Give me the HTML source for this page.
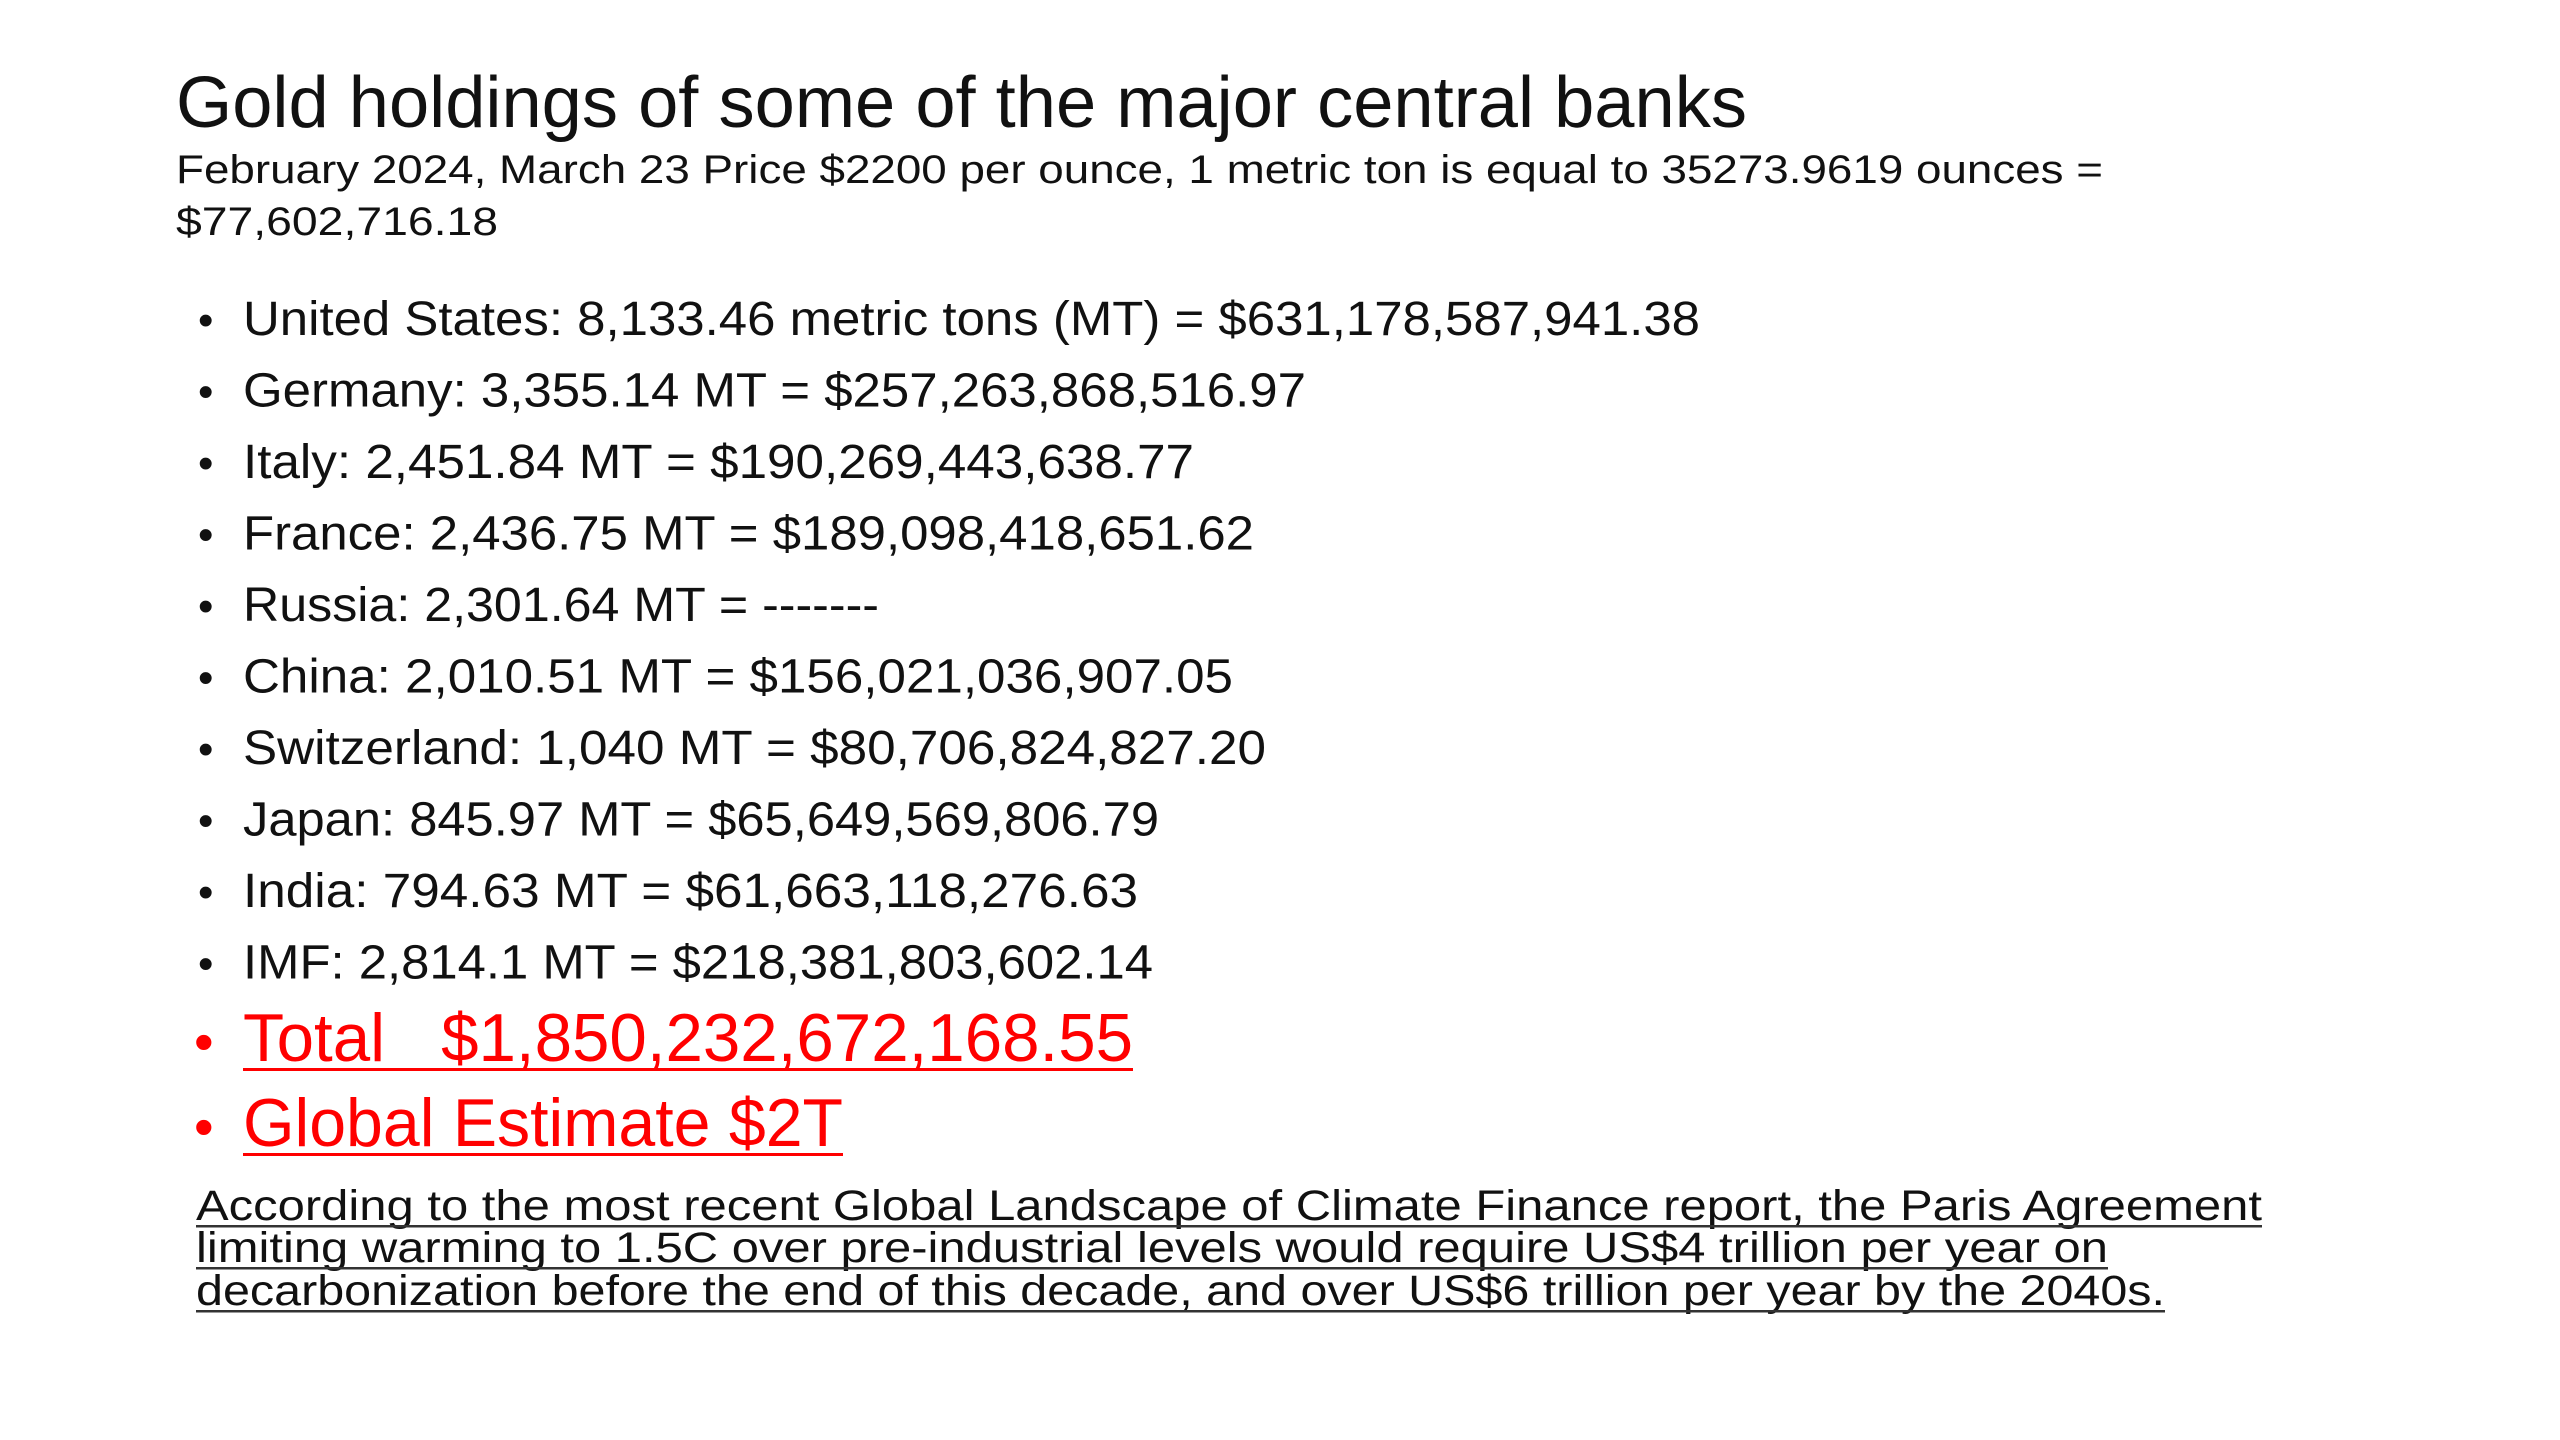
<!DOCTYPE html>
<html><head><meta charset="utf-8"><style>
html,body{margin:0;padding:0;background:#fff}
svg{display:block}
text{font-family:"Liberation Sans",sans-serif}
</style></head><body>
<svg width="2560" height="1440" viewBox="0 0 2560 1440">
<rect width="2560" height="1440" fill="#fff"/>
<text x="176" y="127" font-size="72" fill="#111" textLength="1571" lengthAdjust="spacingAndGlyphs">Gold holdings of some of the major central banks</text>
<text x="176" y="183" font-size="40" fill="#111" textLength="1927" lengthAdjust="spacingAndGlyphs">February 2024, March 23 Price $2200 per ounce, 1 metric ton is equal to 35273.9619 ounces =</text>
<text x="176" y="235" font-size="40" fill="#111" textLength="322" lengthAdjust="spacingAndGlyphs">$77,602,716.18</text>
<g id="list"></g>
<g>
<text x="194" y="1061" font-size="56" fill="#f00">•</text>
<text x="243" y="1061" font-size="68" fill="#f00" textLength="890" lengthAdjust="spacingAndGlyphs" xml:space="preserve">Total   $1,850,232,672,168.55</text>
<rect x="243" y="1068" width="890" height="3" fill="#f00"/>
</g>
<g>
<text x="194" y="1146" font-size="56" fill="#f00">•</text>
<text x="243" y="1146" font-size="68" fill="#f00" textLength="600" lengthAdjust="spacingAndGlyphs">Global Estimate $2T</text>
<rect x="243" y="1153" width="600" height="3" fill="#f00"/>
</g>
<g fill="#111">
<text x="196" y="1220" font-size="43" textLength="2066" lengthAdjust="spacingAndGlyphs">According to the most recent Global Landscape of Climate Finance report, the Paris Agreement</text>
<rect x="196" y="1225" width="2066" height="2.5" fill="#333"/>
<text x="196" y="1262" font-size="43" textLength="1912" lengthAdjust="spacingAndGlyphs">limiting warming to 1.5C over pre-industrial levels would require US$4 trillion per year on</text>
<rect x="196" y="1267" width="1912" height="2.5" fill="#333"/>
<text x="196" y="1305" font-size="43" textLength="1969" lengthAdjust="spacingAndGlyphs">decarbonization before the end of this decade, and over US$6 trillion per year by the 2040s.</text>
<rect x="196" y="1310" width="1969" height="2.5" fill="#333"/>
</g>
</svg>
<script>
const items=["United States: 8,133.46 metric tons (MT) = $631,178,587,941.38","Germany: 3,355.14 MT =  $257,263,868,516.97","Italy: 2,451.84 MT =  $190,269,443,638.77","France: 2,436.75 MT =  $189,098,418,651.62","Russia: 2,301.64 MT = -------","China: 2,010.51 MT =  $156,021,036,907.05","Switzerland: 1,040 MT =  $80,706,824,827.20","Japan: 845.97 MT =  $65,649,569,806.79","India: 794.63 MT =  $61,663,118,276.63","IMF: 2,814.1 MT =  $218,381,803,602.14"];
const widths=[1457,1063,951,1011,636,990,1023,916,895,910];
const g=document.getElementById('list');
const NS="http://www.w3.org/2000/svg";
items.forEach((s,i)=>{
  const y=335+i*71.5;
  const b=document.createElementNS(NS,'text');
  b.setAttribute('x',198);b.setAttribute('y',y);b.setAttribute('font-size',44);b.setAttribute('fill','#111');
  b.textContent='•';
  
  
  g.appendChild(b);
  const t=document.createElementNS(NS,'text');
  t.setAttribute('x',243);t.setAttribute('y',y);t.setAttribute('font-size',48);t.setAttribute('fill','#111');
  t.setAttribute('textLength',widths[i]);t.setAttribute('lengthAdjust','spacingAndGlyphs');
  t.setAttribute('xml:space','preserve');
  t.textContent=s;
  
  
  g.appendChild(t);
});
</script>
</body></html>
